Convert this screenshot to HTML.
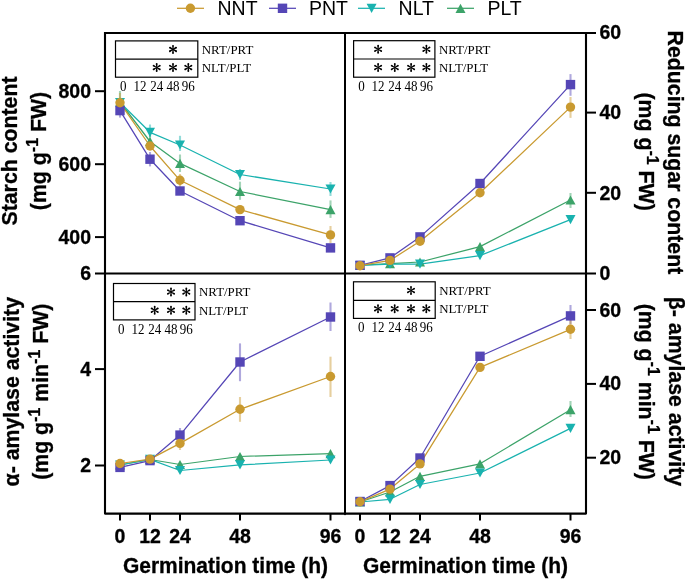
<!DOCTYPE html>
<html><head><meta charset="utf-8"><style>
html,body{margin:0;padding:0;background:#fff;}
svg{display:block;will-change:transform;}
</style></head><body>
<svg width="685" height="581" viewBox="0 0 685 581">
<rect width="685" height="581" fill="#fff"/>
<line x1="177" y1="8.3" x2="204" y2="8.3" stroke="#C99A30" stroke-width="1.25"/>
<circle cx="190.4" cy="8.3" r="4.7" fill="#C99A30"/>
<g transform="translate(217.5,15) scale(1,1.04)"><text font-family="Liberation Sans" font-weight="normal" font-size="19.5" text-anchor="start" >NNT</text></g>
<line x1="269" y1="8.3" x2="296" y2="8.3" stroke="#5546B6" stroke-width="1.25"/>
<rect x="277.8" y="3.6000000000000005" width="9.4" height="9.4" fill="#5546B6"/>
<g transform="translate(309,15) scale(1,1.04)"><text font-family="Liberation Sans" font-weight="normal" font-size="19.5" text-anchor="start" >PNT</text></g>
<line x1="358" y1="8.3" x2="385" y2="8.3" stroke="#19B2AF" stroke-width="1.25"/>
<path d="M366.6 3.700000000000001H376.6L371.6 12.9Z" fill="#19B2AF"/>
<g transform="translate(398.6,15) scale(1,1.04)"><text font-family="Liberation Sans" font-weight="normal" font-size="19.5" text-anchor="start" >NLT</text></g>
<line x1="447" y1="8.3" x2="474" y2="8.3" stroke="#3CA369" stroke-width="1.25"/>
<path d="M455.5 12.9H465.5L460.5 3.700000000000001Z" fill="#3CA369"/>
<g transform="translate(487.4,15) scale(1,1.04)"><text font-family="Liberation Sans" font-weight="normal" font-size="19.5" text-anchor="start" >PLT</text></g>
<rect x="115.5" y="40.9" width="82.30000000000001" height="36.300000000000004" fill="none" stroke="#000" stroke-width="1.2"/>
<line x1="115.5" y1="59.1" x2="197.8" y2="59.1" stroke="#000" stroke-width="1.2"/>
<g transform="translate(201.8,53.8) scale(1,1.04)"><text font-family="Liberation Serif" font-weight="normal" font-size="12.9" text-anchor="start" >NRT/PRT</text></g>
<g transform="translate(201.8,72.05000000000001) scale(1,1.04)"><text font-family="Liberation Serif" font-weight="normal" font-size="12.9" text-anchor="start" >NLT/PLT</text></g>
<g transform="translate(123.3,91.0) scale(1,1.04)"><text font-family="Liberation Serif" font-weight="normal" font-size="13" text-anchor="middle" >0</text></g>
<g transform="translate(140.0,91.0) scale(1,1.04)"><text font-family="Liberation Serif" font-weight="normal" font-size="13" text-anchor="middle" >12</text></g>
<g transform="translate(156.7,91.0) scale(1,1.04)"><text font-family="Liberation Serif" font-weight="normal" font-size="13" text-anchor="middle" >24</text></g>
<g transform="translate(173.0,91.0) scale(1,1.04)"><text font-family="Liberation Serif" font-weight="normal" font-size="13" text-anchor="middle" >48</text></g>
<g transform="translate(188.3,91.0) scale(1,1.04)"><text font-family="Liberation Serif" font-weight="normal" font-size="13" text-anchor="middle" >96</text></g>
<path d="M173.35 49.40L173.95 45.85A0.95 0.95 0 0 0 172.05 45.85L172.65 49.40ZM172.65 49.40L172.05 52.95A0.95 0.95 0 0 0 173.95 52.95L173.35 49.40ZM173.18 49.70L176.55 48.45A0.95 0.95 0 0 0 175.60 46.80L172.82 49.10ZM173.18 49.10L170.40 46.80A0.95 0.95 0 0 0 169.45 48.45L172.82 49.70ZM172.82 49.10L169.45 50.35A0.95 0.95 0 0 0 170.40 52.00L173.18 49.70ZM172.82 49.70L175.60 52.00A0.95 0.95 0 0 0 176.55 50.35L173.18 49.10Z" fill="#000"/>
<path d="M157.05 67.55L157.65 64.00A0.95 0.95 0 0 0 155.75 64.00L156.35 67.55ZM156.35 67.55L155.75 71.10A0.95 0.95 0 0 0 157.65 71.10L157.05 67.55ZM156.88 67.85L160.25 66.60A0.95 0.95 0 0 0 159.30 64.95L156.52 67.25ZM156.88 67.25L154.10 64.95A0.95 0.95 0 0 0 153.15 66.60L156.52 67.85ZM156.52 67.25L153.15 68.50A0.95 0.95 0 0 0 154.10 70.15L156.88 67.85ZM156.52 67.85L159.30 70.15A0.95 0.95 0 0 0 160.25 68.50L156.88 67.25Z" fill="#000"/>
<path d="M173.35 67.55L173.95 64.00A0.95 0.95 0 0 0 172.05 64.00L172.65 67.55ZM172.65 67.55L172.05 71.10A0.95 0.95 0 0 0 173.95 71.10L173.35 67.55ZM173.18 67.85L176.55 66.60A0.95 0.95 0 0 0 175.60 64.95L172.82 67.25ZM173.18 67.25L170.40 64.95A0.95 0.95 0 0 0 169.45 66.60L172.82 67.85ZM172.82 67.25L169.45 68.50A0.95 0.95 0 0 0 170.40 70.15L173.18 67.85ZM172.82 67.85L175.60 70.15A0.95 0.95 0 0 0 176.55 68.50L173.18 67.25Z" fill="#000"/>
<path d="M188.65 67.55L189.25 64.00A0.95 0.95 0 0 0 187.35 64.00L187.95 67.55ZM187.95 67.55L187.35 71.10A0.95 0.95 0 0 0 189.25 71.10L188.65 67.55ZM188.48 67.85L191.85 66.60A0.95 0.95 0 0 0 190.90 64.95L188.12 67.25ZM188.48 67.25L185.70 64.95A0.95 0.95 0 0 0 184.75 66.60L188.12 67.85ZM188.12 67.25L184.75 68.50A0.95 0.95 0 0 0 185.70 70.15L188.48 67.85ZM188.12 67.85L190.90 70.15A0.95 0.95 0 0 0 191.85 68.50L188.48 67.25Z" fill="#000"/>
<rect x="353.6" y="40.7" width="81.29999999999995" height="36.5" fill="none" stroke="#000" stroke-width="1.2"/>
<line x1="353.6" y1="59" x2="434.9" y2="59" stroke="#000" stroke-width="1.2"/>
<g transform="translate(438.9,53.65) scale(1,1.04)"><text font-family="Liberation Serif" font-weight="normal" font-size="12.9" text-anchor="start" >NRT/PRT</text></g>
<g transform="translate(438.9,72.0) scale(1,1.04)"><text font-family="Liberation Serif" font-weight="normal" font-size="12.9" text-anchor="start" >NLT/PLT</text></g>
<g transform="translate(361.40000000000003,91.0) scale(1,1.04)"><text font-family="Liberation Serif" font-weight="normal" font-size="13" text-anchor="middle" >0</text></g>
<g transform="translate(378.1,91.0) scale(1,1.04)"><text font-family="Liberation Serif" font-weight="normal" font-size="13" text-anchor="middle" >12</text></g>
<g transform="translate(394.8,91.0) scale(1,1.04)"><text font-family="Liberation Serif" font-weight="normal" font-size="13" text-anchor="middle" >24</text></g>
<g transform="translate(411.1,91.0) scale(1,1.04)"><text font-family="Liberation Serif" font-weight="normal" font-size="13" text-anchor="middle" >48</text></g>
<g transform="translate(426.40000000000003,91.0) scale(1,1.04)"><text font-family="Liberation Serif" font-weight="normal" font-size="13" text-anchor="middle" >96</text></g>
<path d="M378.45 49.25L379.05 45.70A0.95 0.95 0 0 0 377.15 45.70L377.75 49.25ZM377.75 49.25L377.15 52.80A0.95 0.95 0 0 0 379.05 52.80L378.45 49.25ZM378.28 49.55L381.65 48.30A0.95 0.95 0 0 0 380.70 46.65L377.93 48.95ZM378.28 48.95L375.50 46.65A0.95 0.95 0 0 0 374.55 48.30L377.93 49.55ZM377.93 48.95L374.55 50.20A0.95 0.95 0 0 0 375.50 51.85L378.28 49.55ZM377.93 49.55L380.70 51.85A0.95 0.95 0 0 0 381.65 50.20L378.28 48.95Z" fill="#000"/>
<path d="M426.75 49.25L427.35 45.70A0.95 0.95 0 0 0 425.45 45.70L426.05 49.25ZM426.05 49.25L425.45 52.80A0.95 0.95 0 0 0 427.35 52.80L426.75 49.25ZM426.58 49.55L429.95 48.30A0.95 0.95 0 0 0 429.00 46.65L426.23 48.95ZM426.58 48.95L423.80 46.65A0.95 0.95 0 0 0 422.85 48.30L426.23 49.55ZM426.23 48.95L422.85 50.20A0.95 0.95 0 0 0 423.80 51.85L426.58 49.55ZM426.23 49.55L429.00 51.85A0.95 0.95 0 0 0 429.95 50.20L426.58 48.95Z" fill="#000"/>
<path d="M378.45 67.50L379.05 63.95A0.95 0.95 0 0 0 377.15 63.95L377.75 67.50ZM377.75 67.50L377.15 71.05A0.95 0.95 0 0 0 379.05 71.05L378.45 67.50ZM378.28 67.80L381.65 66.55A0.95 0.95 0 0 0 380.70 64.90L377.93 67.20ZM378.28 67.20L375.50 64.90A0.95 0.95 0 0 0 374.55 66.55L377.93 67.80ZM377.93 67.20L374.55 68.45A0.95 0.95 0 0 0 375.50 70.10L378.28 67.80ZM377.93 67.80L380.70 70.10A0.95 0.95 0 0 0 381.65 68.45L378.28 67.20Z" fill="#000"/>
<path d="M395.15 67.50L395.75 63.95A0.95 0.95 0 0 0 393.85 63.95L394.45 67.50ZM394.45 67.50L393.85 71.05A0.95 0.95 0 0 0 395.75 71.05L395.15 67.50ZM394.98 67.80L398.35 66.55A0.95 0.95 0 0 0 397.40 64.90L394.62 67.20ZM394.98 67.20L392.20 64.90A0.95 0.95 0 0 0 391.25 66.55L394.62 67.80ZM394.62 67.20L391.25 68.45A0.95 0.95 0 0 0 392.20 70.10L394.98 67.80ZM394.62 67.80L397.40 70.10A0.95 0.95 0 0 0 398.35 68.45L394.98 67.20Z" fill="#000"/>
<path d="M411.45 67.50L412.05 63.95A0.95 0.95 0 0 0 410.15 63.95L410.75 67.50ZM410.75 67.50L410.15 71.05A0.95 0.95 0 0 0 412.05 71.05L411.45 67.50ZM411.28 67.80L414.65 66.55A0.95 0.95 0 0 0 413.70 64.90L410.93 67.20ZM411.28 67.20L408.50 64.90A0.95 0.95 0 0 0 407.55 66.55L410.93 67.80ZM410.93 67.20L407.55 68.45A0.95 0.95 0 0 0 408.50 70.10L411.28 67.80ZM410.93 67.80L413.70 70.10A0.95 0.95 0 0 0 414.65 68.45L411.28 67.20Z" fill="#000"/>
<path d="M426.75 67.50L427.35 63.95A0.95 0.95 0 0 0 425.45 63.95L426.05 67.50ZM426.05 67.50L425.45 71.05A0.95 0.95 0 0 0 427.35 71.05L426.75 67.50ZM426.58 67.80L429.95 66.55A0.95 0.95 0 0 0 429.00 64.90L426.23 67.20ZM426.58 67.20L423.80 64.90A0.95 0.95 0 0 0 422.85 66.55L426.23 67.80ZM426.23 67.20L422.85 68.45A0.95 0.95 0 0 0 423.80 70.10L426.58 67.80ZM426.23 67.80L429.00 70.10A0.95 0.95 0 0 0 429.95 68.45L426.58 67.20Z" fill="#000"/>
<rect x="113.5" y="283.5" width="81.5" height="36.39999999999998" fill="none" stroke="#000" stroke-width="1.2"/>
<line x1="113.5" y1="301.7" x2="195" y2="301.7" stroke="#000" stroke-width="1.2"/>
<g transform="translate(199.0,296.40000000000003) scale(1,1.04)"><text font-family="Liberation Serif" font-weight="normal" font-size="12.9" text-anchor="start" >NRT/PRT</text></g>
<g transform="translate(199.0,314.69999999999993) scale(1,1.04)"><text font-family="Liberation Serif" font-weight="normal" font-size="12.9" text-anchor="start" >NLT/PLT</text></g>
<g transform="translate(121.3,333.7) scale(1,1.04)"><text font-family="Liberation Serif" font-weight="normal" font-size="13" text-anchor="middle" >0</text></g>
<g transform="translate(138.0,333.7) scale(1,1.04)"><text font-family="Liberation Serif" font-weight="normal" font-size="13" text-anchor="middle" >12</text></g>
<g transform="translate(154.7,333.7) scale(1,1.04)"><text font-family="Liberation Serif" font-weight="normal" font-size="13" text-anchor="middle" >24</text></g>
<g transform="translate(171.0,333.7) scale(1,1.04)"><text font-family="Liberation Serif" font-weight="normal" font-size="13" text-anchor="middle" >48</text></g>
<g transform="translate(186.3,333.7) scale(1,1.04)"><text font-family="Liberation Serif" font-weight="normal" font-size="13" text-anchor="middle" >96</text></g>
<path d="M171.35 292.00L171.95 288.45A0.95 0.95 0 0 0 170.05 288.45L170.65 292.00ZM170.65 292.00L170.05 295.55A0.95 0.95 0 0 0 171.95 295.55L171.35 292.00ZM171.18 292.30L174.55 291.05A0.95 0.95 0 0 0 173.60 289.40L170.82 291.70ZM171.18 291.70L168.40 289.40A0.95 0.95 0 0 0 167.45 291.05L170.82 292.30ZM170.82 291.70L167.45 292.95A0.95 0.95 0 0 0 168.40 294.60L171.18 292.30ZM170.82 292.30L173.60 294.60A0.95 0.95 0 0 0 174.55 292.95L171.18 291.70Z" fill="#000"/>
<path d="M186.65 292.00L187.25 288.45A0.95 0.95 0 0 0 185.35 288.45L185.95 292.00ZM185.95 292.00L185.35 295.55A0.95 0.95 0 0 0 187.25 295.55L186.65 292.00ZM186.48 292.30L189.85 291.05A0.95 0.95 0 0 0 188.90 289.40L186.12 291.70ZM186.48 291.70L183.70 289.40A0.95 0.95 0 0 0 182.75 291.05L186.12 292.30ZM186.12 291.70L182.75 292.95A0.95 0.95 0 0 0 183.70 294.60L186.48 292.30ZM186.12 292.30L188.90 294.60A0.95 0.95 0 0 0 189.85 292.95L186.48 291.70Z" fill="#000"/>
<path d="M155.05 310.20L155.65 306.65A0.95 0.95 0 0 0 153.75 306.65L154.35 310.20ZM154.35 310.20L153.75 313.75A0.95 0.95 0 0 0 155.65 313.75L155.05 310.20ZM154.88 310.50L158.25 309.25A0.95 0.95 0 0 0 157.30 307.60L154.52 309.90ZM154.88 309.90L152.10 307.60A0.95 0.95 0 0 0 151.15 309.25L154.52 310.50ZM154.52 309.90L151.15 311.15A0.95 0.95 0 0 0 152.10 312.80L154.88 310.50ZM154.52 310.50L157.30 312.80A0.95 0.95 0 0 0 158.25 311.15L154.88 309.90Z" fill="#000"/>
<path d="M171.35 310.20L171.95 306.65A0.95 0.95 0 0 0 170.05 306.65L170.65 310.20ZM170.65 310.20L170.05 313.75A0.95 0.95 0 0 0 171.95 313.75L171.35 310.20ZM171.18 310.50L174.55 309.25A0.95 0.95 0 0 0 173.60 307.60L170.82 309.90ZM171.18 309.90L168.40 307.60A0.95 0.95 0 0 0 167.45 309.25L170.82 310.50ZM170.82 309.90L167.45 311.15A0.95 0.95 0 0 0 168.40 312.80L171.18 310.50ZM170.82 310.50L173.60 312.80A0.95 0.95 0 0 0 174.55 311.15L171.18 309.90Z" fill="#000"/>
<path d="M186.65 310.20L187.25 306.65A0.95 0.95 0 0 0 185.35 306.65L185.95 310.20ZM185.95 310.20L185.35 313.75A0.95 0.95 0 0 0 187.25 313.75L186.65 310.20ZM186.48 310.50L189.85 309.25A0.95 0.95 0 0 0 188.90 307.60L186.12 309.90ZM186.48 309.90L183.70 307.60A0.95 0.95 0 0 0 182.75 309.25L186.12 310.50ZM186.12 309.90L182.75 311.15A0.95 0.95 0 0 0 183.70 312.80L186.48 310.50ZM186.12 310.50L188.90 312.80A0.95 0.95 0 0 0 189.85 311.15L186.48 309.90Z" fill="#000"/>
<rect x="353.5" y="281.8" width="81.69999999999999" height="36.599999999999966" fill="none" stroke="#000" stroke-width="1.2"/>
<line x1="353.5" y1="300.4" x2="435.2" y2="300.4" stroke="#000" stroke-width="1.2"/>
<g transform="translate(439.2,294.90000000000003) scale(1,1.04)"><text font-family="Liberation Serif" font-weight="normal" font-size="12.9" text-anchor="start" >NRT/PRT</text></g>
<g transform="translate(439.2,313.29999999999995) scale(1,1.04)"><text font-family="Liberation Serif" font-weight="normal" font-size="12.9" text-anchor="start" >NLT/PLT</text></g>
<g transform="translate(361.3,332.2) scale(1,1.04)"><text font-family="Liberation Serif" font-weight="normal" font-size="13" text-anchor="middle" >0</text></g>
<g transform="translate(378.0,332.2) scale(1,1.04)"><text font-family="Liberation Serif" font-weight="normal" font-size="13" text-anchor="middle" >12</text></g>
<g transform="translate(394.7,332.2) scale(1,1.04)"><text font-family="Liberation Serif" font-weight="normal" font-size="13" text-anchor="middle" >24</text></g>
<g transform="translate(411.0,332.2) scale(1,1.04)"><text font-family="Liberation Serif" font-weight="normal" font-size="13" text-anchor="middle" >48</text></g>
<g transform="translate(426.3,332.2) scale(1,1.04)"><text font-family="Liberation Serif" font-weight="normal" font-size="13" text-anchor="middle" >96</text></g>
<path d="M411.35 290.50L411.95 286.95A0.95 0.95 0 0 0 410.05 286.95L410.65 290.50ZM410.65 290.50L410.05 294.05A0.95 0.95 0 0 0 411.95 294.05L411.35 290.50ZM411.18 290.80L414.55 289.55A0.95 0.95 0 0 0 413.60 287.90L410.82 290.20ZM411.18 290.20L408.40 287.90A0.95 0.95 0 0 0 407.45 289.55L410.82 290.80ZM410.82 290.20L407.45 291.45A0.95 0.95 0 0 0 408.40 293.10L411.18 290.80ZM410.82 290.80L413.60 293.10A0.95 0.95 0 0 0 414.55 291.45L411.18 290.20Z" fill="#000"/>
<path d="M378.35 308.80L378.95 305.25A0.95 0.95 0 0 0 377.05 305.25L377.65 308.80ZM377.65 308.80L377.05 312.35A0.95 0.95 0 0 0 378.95 312.35L378.35 308.80ZM378.18 309.10L381.55 307.85A0.95 0.95 0 0 0 380.60 306.20L377.82 308.50ZM378.18 308.50L375.40 306.20A0.95 0.95 0 0 0 374.45 307.85L377.82 309.10ZM377.82 308.50L374.45 309.75A0.95 0.95 0 0 0 375.40 311.40L378.18 309.10ZM377.82 309.10L380.60 311.40A0.95 0.95 0 0 0 381.55 309.75L378.18 308.50Z" fill="#000"/>
<path d="M395.05 308.80L395.65 305.25A0.95 0.95 0 0 0 393.75 305.25L394.35 308.80ZM394.35 308.80L393.75 312.35A0.95 0.95 0 0 0 395.65 312.35L395.05 308.80ZM394.88 309.10L398.25 307.85A0.95 0.95 0 0 0 397.30 306.20L394.52 308.50ZM394.88 308.50L392.10 306.20A0.95 0.95 0 0 0 391.15 307.85L394.52 309.10ZM394.52 308.50L391.15 309.75A0.95 0.95 0 0 0 392.10 311.40L394.88 309.10ZM394.52 309.10L397.30 311.40A0.95 0.95 0 0 0 398.25 309.75L394.88 308.50Z" fill="#000"/>
<path d="M411.35 308.80L411.95 305.25A0.95 0.95 0 0 0 410.05 305.25L410.65 308.80ZM410.65 308.80L410.05 312.35A0.95 0.95 0 0 0 411.95 312.35L411.35 308.80ZM411.18 309.10L414.55 307.85A0.95 0.95 0 0 0 413.60 306.20L410.82 308.50ZM411.18 308.50L408.40 306.20A0.95 0.95 0 0 0 407.45 307.85L410.82 309.10ZM410.82 308.50L407.45 309.75A0.95 0.95 0 0 0 408.40 311.40L411.18 309.10ZM410.82 309.10L413.60 311.40A0.95 0.95 0 0 0 414.55 309.75L411.18 308.50Z" fill="#000"/>
<path d="M426.65 308.80L427.25 305.25A0.95 0.95 0 0 0 425.35 305.25L425.95 308.80ZM425.95 308.80L425.35 312.35A0.95 0.95 0 0 0 427.25 312.35L426.65 308.80ZM426.48 309.10L429.85 307.85A0.95 0.95 0 0 0 428.90 306.20L426.12 308.50ZM426.48 308.50L423.70 306.20A0.95 0.95 0 0 0 422.75 307.85L426.12 309.10ZM426.12 308.50L422.75 309.75A0.95 0.95 0 0 0 423.70 311.40L426.48 309.10ZM426.12 309.10L428.90 311.40A0.95 0.95 0 0 0 429.85 309.75L426.48 308.50Z" fill="#000"/>
<line x1="120" y1="91" x2="120" y2="112" stroke="#3CA369" stroke-opacity="0.47" stroke-width="2.1"/>
<line x1="120" y1="93" x2="120" y2="112" stroke="#C99A30" stroke-opacity="0.47" stroke-width="2.1"/>
<line x1="120" y1="104" x2="120" y2="117.6" stroke="#5546B6" stroke-opacity="0.47" stroke-width="2.1"/>
<line x1="150" y1="124.5" x2="150" y2="137" stroke="#19B2AF" stroke-opacity="0.47" stroke-width="2.1"/>
<line x1="150" y1="152" x2="150" y2="166.4" stroke="#5546B6" stroke-opacity="0.47" stroke-width="2.1"/>
<line x1="150" y1="133" x2="150" y2="146" stroke="#3CA369" stroke-opacity="0.47" stroke-width="2.1"/>
<line x1="180" y1="135.8" x2="180" y2="151" stroke="#19B2AF" stroke-opacity="0.47" stroke-width="2.1"/>
<line x1="180" y1="154.5" x2="180" y2="172" stroke="#3CA369" stroke-opacity="0.47" stroke-width="2.1"/>
<line x1="180" y1="174" x2="180" y2="187" stroke="#C99A30" stroke-opacity="0.47" stroke-width="2.1"/>
<line x1="240" y1="181.7" x2="240" y2="199.8" stroke="#3CA369" stroke-opacity="0.47" stroke-width="2.1"/>
<line x1="240" y1="169" x2="240" y2="180" stroke="#19B2AF" stroke-opacity="0.47" stroke-width="2.1"/>
<line x1="330.5" y1="182" x2="330.5" y2="196" stroke="#19B2AF" stroke-opacity="0.47" stroke-width="2.1"/>
<line x1="330.5" y1="200.4" x2="330.5" y2="217.9" stroke="#3CA369" stroke-opacity="0.47" stroke-width="2.1"/>
<line x1="330.5" y1="226" x2="330.5" y2="243" stroke="#C99A30" stroke-opacity="0.47" stroke-width="2.1"/>
<line x1="570.5" y1="74.1" x2="570.5" y2="95.8" stroke="#5546B6" stroke-opacity="0.47" stroke-width="2.1"/>
<line x1="570.5" y1="97" x2="570.5" y2="117.9" stroke="#C99A30" stroke-opacity="0.47" stroke-width="2.1"/>
<line x1="570.5" y1="193" x2="570.5" y2="208" stroke="#3CA369" stroke-opacity="0.47" stroke-width="2.1"/>
<line x1="240" y1="343.4" x2="240" y2="381.2" stroke="#5546B6" stroke-opacity="0.47" stroke-width="2.1"/>
<line x1="240" y1="397" x2="240" y2="421.8" stroke="#C99A30" stroke-opacity="0.47" stroke-width="2.1"/>
<line x1="330.5" y1="302.5" x2="330.5" y2="331" stroke="#5546B6" stroke-opacity="0.47" stroke-width="2.1"/>
<line x1="330.5" y1="356.7" x2="330.5" y2="397" stroke="#C99A30" stroke-opacity="0.47" stroke-width="2.1"/>
<line x1="180" y1="428" x2="180" y2="441" stroke="#5546B6" stroke-opacity="0.47" stroke-width="2.1"/>
<line x1="180" y1="437" x2="180" y2="450" stroke="#C99A30" stroke-opacity="0.47" stroke-width="2.1"/>
<line x1="570.5" y1="305" x2="570.5" y2="324" stroke="#5546B6" stroke-opacity="0.47" stroke-width="2.1"/>
<line x1="570.5" y1="318" x2="570.5" y2="339" stroke="#C99A30" stroke-opacity="0.47" stroke-width="2.1"/>
<line x1="570.5" y1="401" x2="570.5" y2="417" stroke="#3CA369" stroke-opacity="0.47" stroke-width="2.1"/>
<polyline points="120,102 150,141.5 180,163.4 240,191.5 330.5,209.6" fill="none" stroke="#3CA369" stroke-width="1.25" stroke-linejoin="round"/>
<polyline points="120,102.5 150,132.3 180,145 240,174.5 330.5,189" fill="none" stroke="#19B2AF" stroke-width="1.25" stroke-linejoin="round"/>
<polyline points="120,110.6 150,159.2 180,191 240,220.7 330.5,247.9" fill="none" stroke="#5546B6" stroke-width="1.25" stroke-linejoin="round"/>
<polyline points="120,102.8 150,146 180,180.3 240,209.6 330.5,234.9" fill="none" stroke="#C99A30" stroke-width="1.25" stroke-linejoin="round"/>
<path d="M115 106.6H125L120 97.4Z" fill="#3CA369"/>
<path d="M145 146.1H155L150 136.9Z" fill="#3CA369"/>
<path d="M175 168.0H185L180 158.8Z" fill="#3CA369"/>
<path d="M235 196.1H245L240 186.9Z" fill="#3CA369"/>
<path d="M325.5 214.2H335.5L330.5 205.0Z" fill="#3CA369"/>
<path d="M115 97.9H125L120 107.1Z" fill="#19B2AF"/>
<path d="M145 127.70000000000002H155L150 136.9Z" fill="#19B2AF"/>
<path d="M175 140.4H185L180 149.6Z" fill="#19B2AF"/>
<path d="M235 169.9H245L240 179.1Z" fill="#19B2AF"/>
<path d="M325.5 184.4H335.5L330.5 193.6Z" fill="#19B2AF"/>
<rect x="115.3" y="105.89999999999999" width="9.4" height="9.4" fill="#5546B6"/>
<rect x="145.3" y="154.5" width="9.4" height="9.4" fill="#5546B6"/>
<rect x="175.3" y="186.3" width="9.4" height="9.4" fill="#5546B6"/>
<rect x="235.3" y="216.0" width="9.4" height="9.4" fill="#5546B6"/>
<rect x="325.8" y="243.20000000000002" width="9.4" height="9.4" fill="#5546B6"/>
<circle cx="120" cy="102.8" r="4.7" fill="#C99A30"/>
<circle cx="150" cy="146" r="4.7" fill="#C99A30"/>
<circle cx="180" cy="180.3" r="4.7" fill="#C99A30"/>
<circle cx="240" cy="209.6" r="4.7" fill="#C99A30"/>
<circle cx="330.5" cy="234.9" r="4.7" fill="#C99A30"/>
<polyline points="360,265.2 390,263.7 420,262 480,246.6 570.5,200" fill="none" stroke="#3CA369" stroke-width="1.25" stroke-linejoin="round"/>
<polyline points="360,265.5 390,264.2 420,264.2 480,255.6 570.5,219.6" fill="none" stroke="#19B2AF" stroke-width="1.25" stroke-linejoin="round"/>
<polyline points="360,265.3 390,257.9 420,236.9 480,183.5 570.5,84.6" fill="none" stroke="#5546B6" stroke-width="1.25" stroke-linejoin="round"/>
<polyline points="360,265.7 390,260.4 420,241.2 480,192.8 570.5,107.1" fill="none" stroke="#C99A30" stroke-width="1.25" stroke-linejoin="round"/>
<path d="M355 269.8H365L360 260.59999999999997Z" fill="#3CA369"/>
<path d="M385 268.3H395L390 259.09999999999997Z" fill="#3CA369"/>
<path d="M415 266.6H425L420 257.4Z" fill="#3CA369"/>
<path d="M475 251.2H485L480 242.0Z" fill="#3CA369"/>
<path d="M565.5 204.6H575.5L570.5 195.4Z" fill="#3CA369"/>
<path d="M355 260.9H365L360 270.1Z" fill="#19B2AF"/>
<path d="M385 259.59999999999997H395L390 268.8Z" fill="#19B2AF"/>
<path d="M415 259.59999999999997H425L420 268.8Z" fill="#19B2AF"/>
<path d="M475 251.0H485L480 260.2Z" fill="#19B2AF"/>
<path d="M565.5 215.0H575.5L570.5 224.2Z" fill="#19B2AF"/>
<rect x="355.3" y="260.6" width="9.4" height="9.4" fill="#5546B6"/>
<rect x="385.3" y="253.2" width="9.4" height="9.4" fill="#5546B6"/>
<rect x="415.3" y="232.20000000000002" width="9.4" height="9.4" fill="#5546B6"/>
<rect x="475.3" y="178.8" width="9.4" height="9.4" fill="#5546B6"/>
<rect x="565.8" y="79.89999999999999" width="9.4" height="9.4" fill="#5546B6"/>
<circle cx="360" cy="265.7" r="4.7" fill="#C99A30"/>
<circle cx="390" cy="260.4" r="4.7" fill="#C99A30"/>
<circle cx="420" cy="241.2" r="4.7" fill="#C99A30"/>
<circle cx="480" cy="192.8" r="4.7" fill="#C99A30"/>
<circle cx="570.5" cy="107.1" r="4.7" fill="#C99A30"/>
<polyline points="120,465 150,459.5 180,464.5 240,456.5 330.5,453.6" fill="none" stroke="#3CA369" stroke-width="1.25" stroke-linejoin="round"/>
<polyline points="120,465 150,459.4 180,470.5 240,464.9 330.5,460" fill="none" stroke="#19B2AF" stroke-width="1.25" stroke-linejoin="round"/>
<polyline points="120,467.4 150,460.6 180,435.1 240,362 330.5,317" fill="none" stroke="#5546B6" stroke-width="1.25" stroke-linejoin="round"/>
<polyline points="120,463.5 150,459.1 180,443.4 240,409.3 330.5,376.5" fill="none" stroke="#C99A30" stroke-width="1.25" stroke-linejoin="round"/>
<path d="M115 469.6H125L120 460.4Z" fill="#3CA369"/>
<path d="M145 464.1H155L150 454.9Z" fill="#3CA369"/>
<path d="M175 469.1H185L180 459.9Z" fill="#3CA369"/>
<path d="M235 461.1H245L240 451.9Z" fill="#3CA369"/>
<path d="M325.5 458.20000000000005H335.5L330.5 449.0Z" fill="#3CA369"/>
<path d="M115 460.4H125L120 469.6Z" fill="#19B2AF"/>
<path d="M145 454.79999999999995H155L150 464.0Z" fill="#19B2AF"/>
<path d="M175 465.9H185L180 475.1Z" fill="#19B2AF"/>
<path d="M235 460.29999999999995H245L240 469.5Z" fill="#19B2AF"/>
<path d="M325.5 455.4H335.5L330.5 464.6Z" fill="#19B2AF"/>
<rect x="115.3" y="462.7" width="9.4" height="9.4" fill="#5546B6"/>
<rect x="145.3" y="455.90000000000003" width="9.4" height="9.4" fill="#5546B6"/>
<rect x="175.3" y="430.40000000000003" width="9.4" height="9.4" fill="#5546B6"/>
<rect x="235.3" y="357.3" width="9.4" height="9.4" fill="#5546B6"/>
<rect x="325.8" y="312.3" width="9.4" height="9.4" fill="#5546B6"/>
<circle cx="120" cy="463.5" r="4.7" fill="#C99A30"/>
<circle cx="150" cy="459.1" r="4.7" fill="#C99A30"/>
<circle cx="180" cy="443.4" r="4.7" fill="#C99A30"/>
<circle cx="240" cy="409.3" r="4.7" fill="#C99A30"/>
<circle cx="330.5" cy="376.5" r="4.7" fill="#C99A30"/>
<polyline points="360,502 390,492 420,476.3 480,463.8 570.5,409.7" fill="none" stroke="#3CA369" stroke-width="1.25" stroke-linejoin="round"/>
<polyline points="360,502 390,499.3 420,484.5 480,473 570.5,428.4" fill="none" stroke="#19B2AF" stroke-width="1.25" stroke-linejoin="round"/>
<polyline points="360,501.5 390,485.6 420,458 480,356.3 570.5,315.9" fill="none" stroke="#5546B6" stroke-width="1.25" stroke-linejoin="round"/>
<polyline points="360,501.8 390,489.1 420,463.9 480,367.4 570.5,329.3" fill="none" stroke="#C99A30" stroke-width="1.25" stroke-linejoin="round"/>
<path d="M355 506.6H365L360 497.4Z" fill="#3CA369"/>
<path d="M385 496.6H395L390 487.4Z" fill="#3CA369"/>
<path d="M415 480.90000000000003H425L420 471.7Z" fill="#3CA369"/>
<path d="M475 468.40000000000003H485L480 459.2Z" fill="#3CA369"/>
<path d="M565.5 414.3H575.5L570.5 405.09999999999997Z" fill="#3CA369"/>
<path d="M355 497.4H365L360 506.6Z" fill="#19B2AF"/>
<path d="M385 494.7H395L390 503.90000000000003Z" fill="#19B2AF"/>
<path d="M415 479.9H425L420 489.1Z" fill="#19B2AF"/>
<path d="M475 468.4H485L480 477.6Z" fill="#19B2AF"/>
<path d="M565.5 423.79999999999995H575.5L570.5 433.0Z" fill="#19B2AF"/>
<rect x="355.3" y="496.8" width="9.4" height="9.4" fill="#5546B6"/>
<rect x="385.3" y="480.90000000000003" width="9.4" height="9.4" fill="#5546B6"/>
<rect x="415.3" y="453.3" width="9.4" height="9.4" fill="#5546B6"/>
<rect x="475.3" y="351.6" width="9.4" height="9.4" fill="#5546B6"/>
<rect x="565.8" y="311.2" width="9.4" height="9.4" fill="#5546B6"/>
<circle cx="360" cy="501.8" r="4.7" fill="#C99A30"/>
<circle cx="390" cy="489.1" r="4.7" fill="#C99A30"/>
<circle cx="420" cy="463.9" r="4.7" fill="#C99A30"/>
<circle cx="480" cy="367.4" r="4.7" fill="#C99A30"/>
<circle cx="570.5" cy="329.3" r="4.7" fill="#C99A30"/>
<line x1="104" y1="33" x2="596" y2="33" stroke="#000" stroke-width="2"/>
<path d="M105 32V513.6H586V32" fill="none" stroke="#000" stroke-width="2.1" stroke-linejoin="round"/>
<line x1="345" y1="33" x2="345" y2="514.2" stroke="#000" stroke-width="2" stroke-linecap="round"/>
<line x1="95" y1="273.5" x2="596" y2="273.5" stroke="#000" stroke-width="2"/>
<line x1="95" y1="91.2" x2="105" y2="91.2" stroke="#000" stroke-width="2"/>
<line x1="95" y1="164.2" x2="105" y2="164.2" stroke="#000" stroke-width="2"/>
<line x1="95" y1="237.1" x2="105" y2="237.1" stroke="#000" stroke-width="2"/>
<line x1="95" y1="369.1" x2="105" y2="369.1" stroke="#000" stroke-width="2"/>
<line x1="95" y1="465.5" x2="105" y2="465.5" stroke="#000" stroke-width="2"/>
<line x1="586" y1="112.6" x2="596" y2="112.6" stroke="#000" stroke-width="2"/>
<line x1="586" y1="192.8" x2="596" y2="192.8" stroke="#000" stroke-width="2"/>
<line x1="586" y1="310" x2="596" y2="310" stroke="#000" stroke-width="2"/>
<line x1="586" y1="383.9" x2="596" y2="383.9" stroke="#000" stroke-width="2"/>
<line x1="586" y1="457.7" x2="596" y2="457.7" stroke="#000" stroke-width="2"/>
<line x1="120" y1="513.5" x2="120" y2="520.5" stroke="#000" stroke-width="2"/>
<line x1="150" y1="513.5" x2="150" y2="520.5" stroke="#000" stroke-width="2"/>
<line x1="180" y1="513.5" x2="180" y2="520.5" stroke="#000" stroke-width="2"/>
<line x1="240" y1="513.5" x2="240" y2="520.5" stroke="#000" stroke-width="2"/>
<line x1="330.5" y1="513.5" x2="330.5" y2="520.5" stroke="#000" stroke-width="2"/>
<line x1="360" y1="513.5" x2="360" y2="520.5" stroke="#000" stroke-width="2"/>
<line x1="390" y1="513.5" x2="390" y2="520.5" stroke="#000" stroke-width="2"/>
<line x1="420" y1="513.5" x2="420" y2="520.5" stroke="#000" stroke-width="2"/>
<line x1="480" y1="513.5" x2="480" y2="520.5" stroke="#000" stroke-width="2"/>
<line x1="570.5" y1="513.5" x2="570.5" y2="520.5" stroke="#000" stroke-width="2"/>
<g transform="translate(91,97.7) scale(1,1.04)"><text font-family="Liberation Sans" font-weight="bold" font-size="19.5" text-anchor="end" stroke="#000" stroke-width="0.3" >800</text></g>
<g transform="translate(91,170.7) scale(1,1.04)"><text font-family="Liberation Sans" font-weight="bold" font-size="19.5" text-anchor="end" stroke="#000" stroke-width="0.3" >600</text></g>
<g transform="translate(91,243.6) scale(1,1.04)"><text font-family="Liberation Sans" font-weight="bold" font-size="19.5" text-anchor="end" stroke="#000" stroke-width="0.3" >400</text></g>
<g transform="translate(91,279.5) scale(1,1.04)"><text font-family="Liberation Sans" font-weight="bold" font-size="19.5" text-anchor="end" stroke="#000" stroke-width="0.3" >6</text></g>
<g transform="translate(91,375.6) scale(1,1.04)"><text font-family="Liberation Sans" font-weight="bold" font-size="19.5" text-anchor="end" stroke="#000" stroke-width="0.3" >4</text></g>
<g transform="translate(91,471.5) scale(1,1.04)"><text font-family="Liberation Sans" font-weight="bold" font-size="19.5" text-anchor="end" stroke="#000" stroke-width="0.3" >2</text></g>
<g transform="translate(599.5,39.1) scale(1,1.04)"><text font-family="Liberation Sans" font-weight="bold" font-size="19.5" text-anchor="start" stroke="#000" stroke-width="0.3" >60</text></g>
<g transform="translate(599.5,119.1) scale(1,1.04)"><text font-family="Liberation Sans" font-weight="bold" font-size="19.5" text-anchor="start" stroke="#000" stroke-width="0.3" >40</text></g>
<g transform="translate(599.5,199.6) scale(1,1.04)"><text font-family="Liberation Sans" font-weight="bold" font-size="19.5" text-anchor="start" stroke="#000" stroke-width="0.3" >20</text></g>
<g transform="translate(599.5,280.3) scale(1,1.04)"><text font-family="Liberation Sans" font-weight="bold" font-size="19.5" text-anchor="start" stroke="#000" stroke-width="0.3" >0</text></g>
<g transform="translate(599.5,316.5) scale(1,1.04)"><text font-family="Liberation Sans" font-weight="bold" font-size="19.5" text-anchor="start" stroke="#000" stroke-width="0.3" >60</text></g>
<g transform="translate(599.5,390.4) scale(1,1.04)"><text font-family="Liberation Sans" font-weight="bold" font-size="19.5" text-anchor="start" stroke="#000" stroke-width="0.3" >40</text></g>
<g transform="translate(599.5,464.2) scale(1,1.04)"><text font-family="Liberation Sans" font-weight="bold" font-size="19.5" text-anchor="start" stroke="#000" stroke-width="0.3" >20</text></g>
<g transform="translate(120,543) scale(1,1.04)"><text font-family="Liberation Sans" font-weight="bold" font-size="19.5" text-anchor="middle" stroke="#000" stroke-width="0.3" >0</text></g>
<g transform="translate(150,543) scale(1,1.04)"><text font-family="Liberation Sans" font-weight="bold" font-size="19.5" text-anchor="middle" stroke="#000" stroke-width="0.3" >12</text></g>
<g transform="translate(180,543) scale(1,1.04)"><text font-family="Liberation Sans" font-weight="bold" font-size="19.5" text-anchor="middle" stroke="#000" stroke-width="0.3" >24</text></g>
<g transform="translate(240,543) scale(1,1.04)"><text font-family="Liberation Sans" font-weight="bold" font-size="19.5" text-anchor="middle" stroke="#000" stroke-width="0.3" >48</text></g>
<g transform="translate(330.5,543) scale(1,1.04)"><text font-family="Liberation Sans" font-weight="bold" font-size="19.5" text-anchor="middle" stroke="#000" stroke-width="0.3" >96</text></g>
<g transform="translate(360,543) scale(1,1.04)"><text font-family="Liberation Sans" font-weight="bold" font-size="19.5" text-anchor="middle" stroke="#000" stroke-width="0.3" >0</text></g>
<g transform="translate(390,543) scale(1,1.04)"><text font-family="Liberation Sans" font-weight="bold" font-size="19.5" text-anchor="middle" stroke="#000" stroke-width="0.3" >12</text></g>
<g transform="translate(420,543) scale(1,1.04)"><text font-family="Liberation Sans" font-weight="bold" font-size="19.5" text-anchor="middle" stroke="#000" stroke-width="0.3" >24</text></g>
<g transform="translate(480,543) scale(1,1.04)"><text font-family="Liberation Sans" font-weight="bold" font-size="19.5" text-anchor="middle" stroke="#000" stroke-width="0.3" >48</text></g>
<g transform="translate(570.5,543) scale(1,1.04)"><text font-family="Liberation Sans" font-weight="bold" font-size="19.5" text-anchor="middle" stroke="#000" stroke-width="0.3" >96</text></g>
<g transform="translate(225.5,572.5) scale(1,1.04)"><text font-family="Liberation Sans" font-weight="bold" font-size="21" text-anchor="middle" stroke="#000" stroke-width="0.3" >Germination time (h)</text></g>
<g transform="translate(465.5,572.5) scale(1,1.04)"><text font-family="Liberation Sans" font-weight="bold" font-size="21" text-anchor="middle" stroke="#000" stroke-width="0.3" >Germination time (h)</text></g>
<g transform="translate(17.4,151.0) rotate(-90)"><g transform="translate(0,0) scale(1,1.04)"><text font-family="Liberation Sans" font-weight="bold" font-size="21.3" text-anchor="middle" stroke="#000" stroke-width="0.3" >Starch content</text></g></g>
<g transform="translate(46,151) rotate(-90)"><g transform="translate(0,0) scale(1,1.04)"><text font-family="Liberation Sans" font-weight="bold" font-size="21.3" text-anchor="middle" stroke="#000" stroke-width="0.3" >(mg g<tspan dy="-8" font-size="16">-1</tspan><tspan dy="8"> FW)</tspan></text></g></g>
<g transform="translate(668,152.4) rotate(90)"><g transform="translate(0,0) scale(1,1.04)"><text font-family="Liberation Sans" font-weight="bold" font-size="21.3" text-anchor="middle" stroke="#000" stroke-width="0.3" >Reducing sugar content</text></g></g>
<g transform="translate(638.5,151.6) rotate(90)"><g transform="translate(0,0) scale(1,1.04)"><text font-family="Liberation Sans" font-weight="bold" font-size="21.3" text-anchor="middle" stroke="#000" stroke-width="0.3" >(mg g<tspan dy="-8" font-size="16">-1</tspan><tspan dy="8"> FW)</tspan></text></g></g>
<g transform="translate(18.8,391.7) rotate(-90)"><g transform="translate(0,0) scale(1,1.04)"><text font-family="Liberation Sans" font-weight="bold" font-size="21.3" text-anchor="middle" stroke="#000" stroke-width="0.3" >α- amylase activity</text></g></g>
<g transform="translate(48,391.7) rotate(-90)"><g transform="translate(0,0) scale(1,1.04)"><text font-family="Liberation Sans" font-weight="bold" font-size="21.3" text-anchor="middle" stroke="#000" stroke-width="0.3" >(mg g<tspan dy="-8" font-size="16">-1</tspan><tspan dy="8"> min</tspan><tspan dy="-8" font-size="16">-1</tspan><tspan dy="8"> FW)</tspan></text></g></g>
<g transform="translate(668.8,391.5) rotate(90)"><g transform="translate(0,0) scale(1,1.04)"><text font-family="Liberation Sans" font-weight="bold" font-size="21.3" text-anchor="middle" stroke="#000" stroke-width="0.3" >β- amylase activity</text></g></g>
<g transform="translate(639.3,391.8) rotate(90)"><g transform="translate(0,0) scale(1,1.04)"><text font-family="Liberation Sans" font-weight="bold" font-size="21.3" text-anchor="middle" stroke="#000" stroke-width="0.3" >(mg g<tspan dy="-8" font-size="16">-1</tspan><tspan dy="8"> min</tspan><tspan dy="-8" font-size="16">-1</tspan><tspan dy="8"> FW)</tspan></text></g></g>
</svg>
</body></html>
